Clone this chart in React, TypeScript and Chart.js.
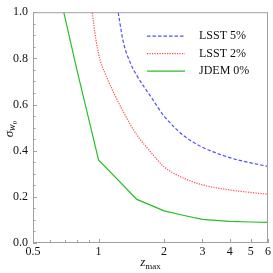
import React, { useEffect, useRef } from "react";
import { Chart, registerables } from "chart.js";

Chart.register(...registerables);

// ---- data ----
const zBlue = [1.2, 1.25, 1.3, 1.4, 1.5, 1.75, 2, 2.5, 3, 4, 5, 6];
const lsst5 = [1.07, 0.96, 0.87, 0.78, 0.725, 0.63, 0.55, 0.46, 0.415, 0.37, 0.347, 0.332];

const zRed = [0.9, 0.95, 1, 1.1, 1.2, 1.3, 1.4, 1.5, 1.75, 2, 2.5, 3, 4, 5, 6];
const lsst2 = [1.16, 0.95, 0.82, 0.71, 0.632, 0.568, 0.513, 0.468, 0.39, 0.33, 0.278, 0.252, 0.23, 0.219, 0.211];

const zGreen = [0.65, 0.7, 0.8, 0.9, 1, 1.5, 2, 2.5, 3, 4, 5, 6];
const jdem0 = [1.11, 0.98, 0.74, 0.54, 0.36, 0.189, 0.139, 0.118, 0.102, 0.094, 0.091, 0.089];

const seriesLabels = ["LSST 5%", "LSST 2%", "JDEM 0%"];

const xTickValues = [0.5, 1, 2, 3, 4, 5, 6];
const xMinorValues = [0.6, 0.7, 0.8, 0.9];
const yTickValues = [0, 0.2, 0.4, 0.6, 0.8, 1.0];
const yMinorValues = [0.05, 0.1, 0.15, 0.25, 0.3, 0.35, 0.45, 0.5, 0.55, 0.65, 0.7, 0.75, 0.85, 0.9, 0.95];

const FONT = "'Liberation Serif', 'Times New Roman', serif";

const pts = (xs: number[], ys: number[]) => xs.map((x, i) => ({ x, y: ys[i] }));

const decor = {
  id: "decor",
  afterDatasetsDraw(chart: any) {
    const { ctx, chartArea: a, scales } = chart;
    const xs = scales.x;
    const ys = scales.y;
    ctx.save();
    // frame
    ctx.strokeStyle = "#a0a0a0";
    ctx.lineWidth = 1;
    ctx.strokeRect(a.left + 0.5, a.top + 0.5, a.right - a.left - 1, a.bottom - a.top - 1);
    // ticks
    ctx.beginPath();
    yTickValues.forEach((v) => {
      const p = Math.round(ys.getPixelForValue(v)) + 0.5;
      ctx.moveTo(a.left, p);
      ctx.lineTo(a.left + 4, p);
    });
    yMinorValues.forEach((v) => {
      const p = Math.round(ys.getPixelForValue(v)) + 0.5;
      ctx.moveTo(a.left, p);
      ctx.lineTo(a.left + 2.5, p);
    });
    xTickValues.forEach((v) => {
      const p = Math.round(xs.getPixelForValue(v)) + 0.5;
      ctx.moveTo(p, a.bottom);
      ctx.lineTo(p, a.bottom - 4);
    });
    xMinorValues.forEach((v) => {
      const p = Math.round(xs.getPixelForValue(v)) + 0.5;
      ctx.moveTo(p, a.bottom);
      ctx.lineTo(p, a.bottom - 3);
    });
    ctx.stroke();

    // legend
    chart.data.datasets.forEach((ds: any, i: number) => {
      const y = a.top + 24 + i * 17.5;
      ctx.beginPath();
      ctx.strokeStyle = ds.borderColor;
      ctx.lineWidth = ds.borderWidth;
      ctx.setLineDash(ds.borderDash || []);
      ctx.moveTo(a.right - 121, y);
      ctx.lineTo(a.right - 83, y);
      ctx.stroke();
      ctx.setLineDash([]);
      ctx.fillStyle = "#111";
      ctx.font = `12px ${FONT}`;
      ctx.textBaseline = "middle";
      ctx.textAlign = "left";
      ctx.fillText(ds.label, a.right - 69, y);
    });

    // x title: z_max
    ctx.fillStyle = "#111";
    ctx.textBaseline = "alphabetic";
    ctx.textAlign = "left";
    const cx = (a.left + a.right) / 2;
    ctx.font = `italic 13px ${FONT}`;
    const zw = ctx.measureText("z").width;
    ctx.font = `9px ${FONT}`;
    const mw = ctx.measureText("max").width;
    const start = cx - (zw + mw) / 2;
    ctx.font = `italic 13px ${FONT}`;
    ctx.fillText("z", start, 266);
    ctx.font = `9px ${FONT}`;
    ctx.fillText("max", start + zw, 269);

    // y title: sigma_{w0}
    ctx.translate(9, 129);
    ctx.rotate(-Math.PI / 2);
    ctx.font = `italic 13px ${FONT}`;
    const sw = ctx.measureText("σ").width;
    ctx.font = `italic 10px ${FONT}`;
    const ww = ctx.measureText("w").width;
    ctx.font = `7px ${FONT}`;
    const ow = ctx.measureText("0").width;
    const s0 = -(sw + ww + ow) / 2;
    ctx.font = `italic 13px ${FONT}`;
    ctx.fillText("σ", s0, 4);
    ctx.font = `italic 10px ${FONT}`;
    ctx.fillText("w", s0 + sw, 6);
    ctx.font = `7px ${FONT}`;
    ctx.fillText("0", s0 + sw + ww, 7.5);
    ctx.restore();
  },
};

export default function App() {
  const ref = useRef<HTMLCanvasElement>(null);
  useEffect(() => {
    if (!ref.current) return;
    Chart.defaults.font.family = FONT;
    const chart = new Chart(ref.current, {
      type: "line",
      data: {
        datasets: [
          {
            label: seriesLabels[0],
            data: pts(zBlue, lsst5),
            borderColor: "rgb(80,80,255)",
            borderWidth: 1.2,
            borderDash: [3.5, 2],
            pointRadius: 0,
            fill: false,
            cubicInterpolationMode: "monotone",
          },
          {
            label: seriesLabels[1],
            data: pts(zRed, lsst2),
            borderColor: "rgb(255,70,70)",
            borderWidth: 1.2,
            borderDash: [1.2, 1.3],
            pointRadius: 0,
            fill: false,
            cubicInterpolationMode: "monotone",
          },
          {
            label: seriesLabels[2],
            data: pts(zGreen, jdem0),
            borderColor: "rgb(40,190,40)",
            borderWidth: 1.2,
            pointRadius: 0,
            fill: false,
            tension: 0,
          },
        ],
      },
      options: {
        animation: false,
        responsive: false,
        layout: { padding: { top: 6, right: 4, left: 0, bottom: 0 } },
        plugins: { legend: { display: false }, tooltip: { enabled: false } },
        scales: {
          x: {
            type: "logarithmic",
            min: 0.5,
            max: 6,
            grid: { display: false, drawTicks: false },
            border: { display: false },
            afterBuildTicks: (s: any) => {
              s.ticks = xTickValues.map((v) => ({ value: v }));
            },
            afterFit: (s: any) => {
              s.height = 30;
            },
            ticks: {
              autoSkip: false,
              maxRotation: 0,
              padding: 2,
              color: "#111",
              font: { size: 12, family: FONT },
              callback: (v: any) => String(v),
            },
          },
          y: {
            type: "linear",
            min: 0,
            max: 1,
            grid: { display: false, drawTicks: false },
            border: { display: false },
            afterBuildTicks: (s: any) => {
              s.ticks = yTickValues.map((v) => ({ value: v }));
            },
            afterFit: (s: any) => {
              s.width = 33;
            },
            ticks: {
              padding: 5,
              color: "#111",
              font: { size: 12, family: FONT },
              callback: (v: any) => Number(v).toFixed(1),
            },
          },
        },
      },
      plugins: [decor],
    } as any);
    return () => chart.destroy();
  }, []);
  return (
    <div style={{ position: "absolute", left: 0, top: 0, width: 273, height: 273, background: "#fff" }}>
      <canvas ref={ref} width={273} height={273} />
    </div>
  );
}
